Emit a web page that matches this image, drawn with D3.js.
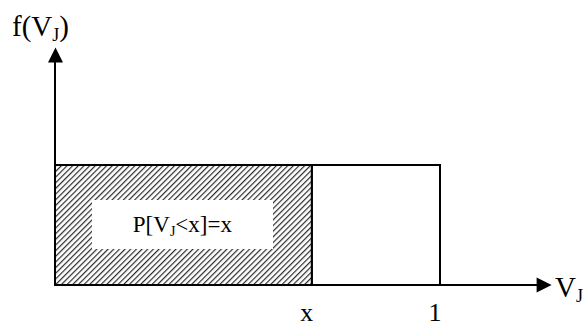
<!DOCTYPE html>
<html>
<head>
<meta charset="utf-8">
<script src="https://cdn.jsdelivr.net/npm/d3@7"></script>
<style>
  body { margin: 0; background: #fff; }
  text { font-family: "Liberation Serif", "Times New Roman", serif; fill: #000; }
</style>
</head>
<body>
<svg id="chart"></svg>
<script>
// uniform density on [0,1], shaded up to x
const support = [0, 1];
const density = [1];
const cutPoint = [0.667];
const tickLabels = ["x", "1"];
const axisExtent = { x: 1.29, y: 1.98 };

const width = 586;
const height = 324;

var svg = d3.select("#chart")
  .attr("width", width)
  .attr("height", height);

var xScale = d3.scaleLinear().domain([0, 1]).range([55, 440]);
var yScale = d3.scaleLinear().domain([0, 1]).range([285, 165]);

// hatch pattern for the shaded area
var defs = svg.append("defs");
var pat = defs.append("pattern")
  .attr("id", "hatch")
  .attr("patternUnits", "userSpaceOnUse")
  .attr("width", 4)
  .attr("height", 4)
  .attr("patternTransform", "rotate(45)");
pat.append("rect").attr("width", 4).attr("height", 4).attr("fill", "#fff");
pat.append("line")
  .attr("x1", 0).attr("y1", 0).attr("x2", 0).attr("y2", 4)
  .attr("stroke", "#2a2a2a").attr("stroke-width", 2.4);

// unshaded part of density
svg.append("rect")
  .attr("x", xScale(cutPoint[0]))
  .attr("y", yScale(density[0]))
  .attr("width", xScale(support[1]) - xScale(cutPoint[0]))
  .attr("height", yScale(0) - yScale(density[0]))
  .attr("fill", "#fff")
  .attr("stroke", "#000")
  .attr("stroke-width", 2);

// shaded part, P[V_J < x]
svg.append("rect")
  .attr("x", xScale(support[0]))
  .attr("y", yScale(density[0]))
  .attr("width", xScale(cutPoint[0]) - xScale(support[0]))
  .attr("height", yScale(0) - yScale(density[0]))
  .attr("fill", "url(#hatch)")
  .attr("stroke", "#000")
  .attr("stroke-width", 2);

// label box
var cx = xScale(cutPoint[0] / 2) - 2;
svg.append("rect")
  .attr("x", 92).attr("y", 200)
  .attr("width", 181).attr("height", 49)
  .attr("fill", "#fff");

var lab = svg.append("text")
  .attr("x", cx + 1)
  .attr("y", 232)
  .attr("text-anchor", "middle")
  .style("font-size", "23px");
lab.append("tspan").text("P[V");
lab.append("tspan").attr("dy", 4).style("font-size", "14px").text("J");
lab.append("tspan").attr("dy", -4).text("<x]=x");

// axes with arrowheads
svg.append("line")
  .attr("x1", xScale(0)).attr("y1", yScale(0))
  .attr("x2", xScale(axisExtent.x) - 14).attr("y2", yScale(0))
  .attr("stroke", "#000").attr("stroke-width", 2);
svg.append("path")
  .attr("d", "M" + xScale(axisExtent.x) + "," + yScale(0) +
    "l-15,-7.5v15z")
  .attr("fill", "#000");

svg.append("line")
  .attr("x1", xScale(0)).attr("y1", yScale(0))
  .attr("x2", xScale(0)).attr("y2", yScale(axisExtent.y) + 14)
  .attr("stroke", "#000").attr("stroke-width", 2);
svg.append("path")
  .attr("d", "M" + (xScale(0) + 0.5) + "," + yScale(axisExtent.y) +
    "l-7.5,15h15z")
  .attr("fill", "#000");

// tick labels
svg.selectAll(".tick-label")
  .data([cutPoint[0], support[1]])
  .enter().append("text")
  .attr("class", "tick-label")
  .attr("x", function(d) { return xScale(d) - 5; })
  .attr("y", 321)
  .attr("text-anchor", "middle")
  .style("font-size", "26px")
  .text(function(d, i) { return tickLabels[i]; });

// axis titles
var yt = svg.append("text").attr("x", 12).attr("y", 36).style("font-size", "29px");
yt.append("tspan").text("f(V");
yt.append("tspan").attr("dy", 5).style("font-size", "18px").text("J");
yt.append("tspan").attr("dy", -5).text(")");

var xt = svg.append("text").attr("x", 555).attr("y", 297).style("font-size", "29px");
xt.append("tspan").text("V");
xt.append("tspan").attr("dy", 5).style("font-size", "18px").text("J");
</script>
</body>
</html>
